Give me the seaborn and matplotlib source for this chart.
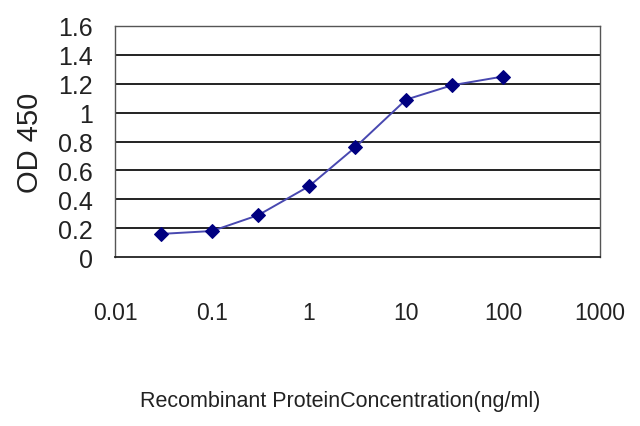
import numpy as np
import pandas as pd
import matplotlib
matplotlib.use('Agg')
import matplotlib.pyplot as plt
import matplotlib.ticker as mticker
import seaborn as sns

# 데이터
concentration = [0.03, 0.1, 0.3, 1, 3, 10, 30, 100]
od450 = [0.16, 0.18, 0.29, 0.49, 0.76, 1.09, 1.19, 1.25]
x_ticks = [0.01, 0.1, 1, 10, 100, 1000]
x_tick_labels = ['0.01', '0.1', '1', '10', '100', '1000']
y_ticks = [0, 0.2, 0.4, 0.6, 0.8, 1.0, 1.2, 1.4, 1.6]
y_tick_labels = ['0', '0.2', '0.4', '0.6', '0.8', '1', '1.2', '1.4', '1.6']

df = pd.DataFrame({'conc': concentration, 'od': od450})

sns.set_style('white')
plt.rcParams['font.family'] = ['Liberation Sans', 'DejaVu Sans']

fig = plt.figure(figsize=(6.4, 4.27), dpi=100)
ax = fig.add_axes([115 / 640, 1 - 258 / 427, 485 / 640, 231 / 427])

sns.lineplot(data=df, x='conc', y='od', ax=ax, color='#4848b0', linewidth=1.4,
             marker='D', markersize=7, markerfacecolor='#000080',
             markeredgecolor='#000080')

ax.set_xscale('log')
ax.set_xlim(0.01, 1000)
ax.set_ylim(0, 1.6)

ax.set_xticks(x_ticks)
ax.set_xticklabels(x_tick_labels, fontsize=16.5, color='#222222')
ax.xaxis.set_minor_locator(mticker.NullLocator())
ax.set_yticks(y_ticks)
ax.set_yticklabels(y_tick_labels, fontsize=18, color='#222222')

for y in y_ticks[1:-1]:
    ax.axhline(y, color='#111111', linewidth=1.3, zorder=1)

for s in ax.spines.values():
    s.set_color('#555555')
    s.set_linewidth(1.0)
ax.spines['bottom'].set_color('#222222')
ax.spines['bottom'].set_linewidth(1.3)

ax.tick_params(axis='x', direction='out', length=5, width=1, color='#333333', pad=27)
ax.tick_params(axis='y', direction='out', length=3, width=1, color='#333333', pad=13)

ax.set_xlabel('Recombinant ProteinConcentration(ng/ml)', fontsize=15.5,
              color='#222222')
ax.xaxis.set_label_coords((340 - 115) / 485, -(401 - 258) / 231)
ax.xaxis.label.set_va('center')
ax.set_ylabel('OD 450', fontsize=21, color='#222222')
ax.yaxis.set_label_coords(-(115 - 30) / 485, (258 - 143) / 231)
ax.yaxis.label.set_va('center')

fig.savefig('out.png', dpi=100)
